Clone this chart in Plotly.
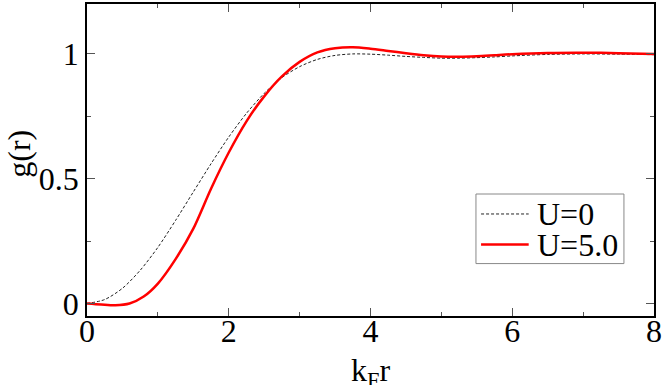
import plotly.graph_objects as go

# values
x_u0 = [0, 0.25, 0.5, 0.75, 1.0, 1.25, 1.5, 1.75, 2.0, 2.25, 2.5, 2.75, 3.0,
        3.25, 3.5, 3.75, 4.0, 4.25, 4.5, 4.75, 5.0, 5.25, 5.5, 5.75, 6.0,
        6.5, 7.0, 7.5, 8.0]
g_u0 = [0.0, 0.016, 0.061, 0.133, 0.225, 0.333, 0.447, 0.560, 0.667, 0.762,
        0.842, 0.905, 0.949, 0.978, 0.994, 1.0, 0.999, 0.995, 0.990, 0.986,
        0.983, 0.983, 0.985, 0.988, 0.992, 0.998, 1.0, 0.999, 0.997]

x_u5 = [0, 0.2, 0.4, 0.6, 0.8, 1.0, 1.25, 1.5, 1.75, 2.0, 2.25, 2.5, 2.75,
        3.0, 3.25, 3.5, 3.75, 4.0, 4.25, 4.5, 4.75, 5.0, 5.25, 5.5, 5.75,
        6.0, 6.5, 7.0, 7.5, 8.0]
g_u5 = [0.0, -0.004, -0.007, 0.0, 0.028, 0.08, 0.178, 0.30, 0.46, 0.605,
        0.73, 0.83, 0.91, 0.968, 1.006, 1.023, 1.027, 1.021, 1.012, 1.003,
        0.995, 0.990, 0.989, 0.991, 0.995, 0.999, 1.004, 1.005, 1.003, 1.0]

series_names = ["U=0", "U=5.0"]

x_ticks = [0, 2, 4, 6, 8]
x_ticklabels = ["0", "2", "4", "6", "8"]
y_ticks = [0, 0.5, 1]
y_ticklabels = ["0", "0.5", "1"]

x_title = "k<sub>F</sub>r"
y_title = "g(r)"

FONT = "Liberation Serif"
DASH_COLOR = "#222222"
RED = "#ff0000"

fig = go.Figure()
fig.add_trace(go.Scatter(x=x_u0, y=g_u0, mode="lines", name=series_names[0], showlegend=False,
                         line=dict(color=DASH_COLOR, width=1, dash="3px,2px", shape="spline", smoothing=0.8)))
fig.add_trace(go.Scatter(x=x_u5, y=g_u5, mode="lines", name=series_names[1], showlegend=False,
                         line=dict(color=RED, width=2.5, shape="spline", smoothing=0.8)))

axis_common = dict(
    showline=True, linecolor="black", linewidth=1.5, mirror="allticks",
    ticks="inside", ticklen=8, tickwidth=1, tickcolor="#555555",
    showgrid=False, zeroline=False,
    tickfont=dict(family=FONT, size=32, color="black"),
)

fig.update_xaxes(range=[0, 8], tickvals=x_ticks, ticktext=x_ticklabels,
                 minor=dict(dtick=1, tick0=0, ticks="inside", ticklen=4, tickcolor="#555555"),
                 ticklabelstandoff=-14,
                 **axis_common)
fig.update_yaxes(range=[-0.05, 1.2], tickvals=y_ticks, ticktext=y_ticklabels,
                 minor=dict(dtick=0.25, tick0=0, ticks="inside", ticklen=4, tickcolor="#555555"),
                 **axis_common)

# axis titles placed as text
fig.add_annotation(text=x_title, xref="paper", yref="paper", x=0.5, y=-0.108,
                   xanchor="center", yanchor="top", showarrow=False,
                   font=dict(family=FONT, size=32, color="black"))
fig.add_annotation(text=y_title, xref="paper", yref="paper", x=-0.12, y=0.52,
                   xanchor="center", yanchor="middle", textangle=-90, showarrow=False,
                   font=dict(family=FONT, size=32, color="black"))

# hand-drawn legend box (paper coordinates of the plot area)
fig.add_shape(type="rect", xref="paper", yref="paper", x0=0.686, x1=0.947, y0=0.168, y1=0.391,
              line=dict(color="#888888", width=1), fillcolor="white", layer="above")
fig.add_shape(type="line", xref="paper", yref="paper", x0=0.695, x1=0.779, y0=0.327, y1=0.327,
              line=dict(color=DASH_COLOR, width=1, dash="3px,2px"), layer="above")
fig.add_shape(type="line", xref="paper", yref="paper", x0=0.695, x1=0.779, y0=0.229, y1=0.229,
              line=dict(color=RED, width=2.5), layer="above")
fig.add_annotation(text=series_names[0], xref="paper", yref="paper", x=0.790, y=0.327,
                   xanchor="left", yanchor="middle", showarrow=False,
                   font=dict(family=FONT, size=32, color="black"))
fig.add_annotation(text=series_names[1], xref="paper", yref="paper", x=0.790, y=0.229,
                   xanchor="left", yanchor="middle", showarrow=False,
                   font=dict(family=FONT, size=32, color="black"))

fig.update_layout(
    width=664, height=385, autosize=False,
    margin=dict(l=87, r=9, t=2, b=69),
    plot_bgcolor="white", paper_bgcolor="white",
    font=dict(family=FONT),
    showlegend=False,
)

fig.write_html("out.html", config={"displayModeBar": False},
               post_script="document.body.style.margin='0px';")
